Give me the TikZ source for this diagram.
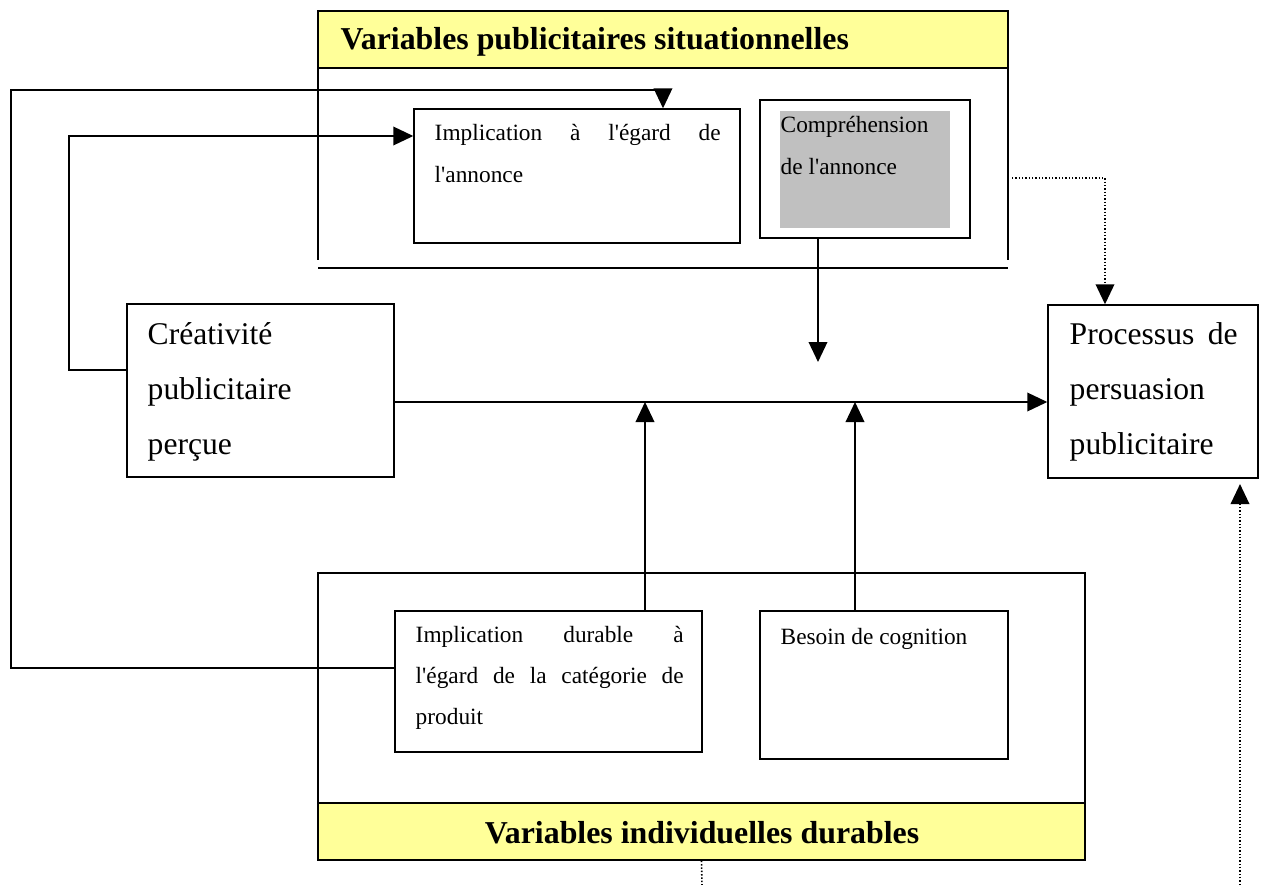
\documentclass[tikz,border=0pt]{standalone}
\usepackage{fontspec}
\setmainfont{Liberation Serif}
\usetikzlibrary{arrows.meta,fit}
\definecolor{hdr}{HTML}{FFFF99}
\definecolor{shade}{HTML}{C0C0C0}
\newcommand{\ap}{\textquotesingle}
\begin{document}
\begin{tikzpicture}[x=0.75pt,y=-0.75pt,
  line width=1.1pt,
  bx/.style={draw, line width=1.1pt, inner sep=0pt},
  arr/.style={-{Triangle[length=15pt,width=14pt]}},
  dot/.style={line width=1.2pt, dash pattern=on 1.1pt off 1.4pt},
  txt/.style={anchor=base west, inner sep=0pt},
  hfont/.style={font=\fontsize{23.9}{28}\selectfont\bfseries},
]
\useasboundingbox (0,0) rectangle (1261,885);

% top group
\node[bx, fill=hdr, fit={(318,11) (1008,68)}] (topHdr) {};
\node[txt, hfont] (topT) at (340,50) {Variables publicitaires situationnelles};
\draw (318,68) -- (318,260);
\draw (1008,68) -- (1008,260);
\draw (318,268) -- (1008,268);

% bottom group
\node[bx, fill=hdr, fit={(318,803) (1085,860)}] (botHdr) {};
\node[bx, fit={(318,573) (1085,860)}] (bot) {};
\node[anchor=base, inner sep=0pt, hfont] (botT) at (702,843) {Variables individuelles durables};

% boxes
\node[bx, fit={(414,109) (740,243)}] (impl) {};
\node[txt] (implT) at (434,140) {\parbox[t]{214.5pt}{\fontsize{17.5}{32}\selectfont Implication à l\ap égard de\linebreak l\ap annonce}};

\node[bx, fit={(760,100) (970,238)}] (comp) {};
\node[fill=shade, inner sep=0pt, fit={(780,111) (950,228)}] (compS) {};
\node[txt] (compT) at (780,132) {\parbox[t]{127pt}{\raggedright\fontsize{17.5}{32}\selectfont Compréhension\\de l\ap annonce}};

\node[bx, fit={(127,304) (394,477)}] (crea) {};
\node[txt] (creaT) at (147,344) {\parbox[t]{180pt}{\raggedright\fontsize{23.7}{41.25}\selectfont Créativité\\publicitaire\\perçue}};

\node[bx, fit={(1048,305) (1258,478)}] (proc) {};
\node[txt] (procT) at (1069,344) {\parbox[t]{126pt}{\fontsize{23.7}{41.25}\selectfont Processus de\linebreak persuasion\\publicitaire}};

\node[bx, fit={(395,611) (702,752)}] (impd) {};
\node[txt] (impdT) at (415,642) {\parbox[t]{201pt}{\fontsize{17.5}{31.1}\selectfont Implication durable à\linebreak l\ap égard de la catégorie de\linebreak produit}};

\node[bx, fit={(760,611) (1008,759)}] (bes) {};
\node[txt] (besT) at (780,644) {\fontsize{17.5}{31.1}\selectfont Besoin de cognition};

% coordinates
\coordinate (m) at (0,402);
\coordinate (compA) at (818,362);
\coordinate (j1) at (645,402);
\coordinate (j2) at (855,402);
\coordinate (k1) at (69,370);
\coordinate (k2) at (69,136);
\coordinate (l1) at (11,668);
\coordinate (l2) at (11,90);
\coordinate (l3) at (663,90);
\coordinate (d1) at (1012,178);
\coordinate (d2) at (1105,178);
\coordinate (e1) at (702,885);
\coordinate (e2) at (1240,885);

% connectors
\draw[arr] (crea.east |- m) -- (proc.west |- m);
\draw[arr] (comp.south -| compA) -- (compA);
\draw[arr] (impd.north -| j1) -- (j1);
\draw[arr] (bes.north -| j2) -- (j2);
\draw[arr] (crea.west |- k1) -- (k1) -- (k2) -- (impl.west |- k2);
\draw[arr] (impd.west |- l1) -- (l1) -- (l2) -- (l3) -- (impl.north -| l3);
\draw[dot, arr] (d1) -- (d2) -- (proc.north -| d2);
\draw[dot] (bot.south) -- (e1);
\draw[dot, arr, shorten >=4pt] (e2) -- (proc.south -| e2);
\end{tikzpicture}
\end{document}
